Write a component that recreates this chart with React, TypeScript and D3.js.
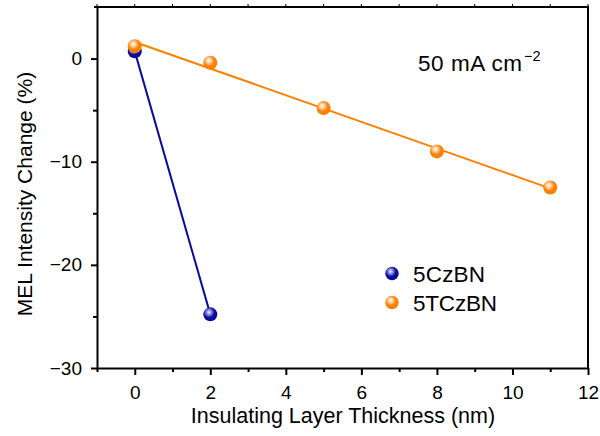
import React, { useRef, useEffect } from "react";
import * as d3 from "d3";

// thickness (nm) and MEL change (%)
const czbnX = [0, 2];
const czbnY = [0.7, -24.8];
const tczbnX = [0, 2, 5, 8, 11];
const tczbnY = [1.2, -0.4, -4.8, -9.0, -12.5];

const xTicks = [0, 2, 4, 6, 8, 10, 12];
const xMinor = [-1, 1, 3, 5, 7, 9, 11];
const yTicks = [0, -10, -20, -30];
const yMinor = [-5, -15, -25];

const seriesNames = ["5CzBN", "5TCzBN"];
const BLUE = "#0a0a9e";
const ORANGE = "#ff8000";

function App() {
  const ref = useRef<SVGSVGElement>(null);

  useEffect(() => {
    const svg = d3.select(ref.current);
    svg.selectAll("*").remove();

    const left = 97, right = 588, top = 7, bottom = 368;
    const x = d3.scaleLinear().domain([-1, 12]).range([left, right]);
    const y = d3.scaleLinear().domain([-30, 5]).range([bottom, top]);
    const font = "Liberation Sans, Arial, sans-serif";

    // gradients for the ball markers
    const defs = svg.append("defs");
    [["gBlue", BLUE, "#a8a8f0"], ["gOrange", ORANGE, "#ffe2c4"]].forEach(([id, c, hl]) => {
      const g = defs.append("radialGradient").attr("id", id)
        .attr("cx", "0.4").attr("cy", "0.35").attr("r", "0.65");
      g.append("stop").attr("offset", "0").attr("stop-color", "#ffffff");
      g.append("stop").attr("offset", "0.18").attr("stop-color", hl);
      g.append("stop").attr("offset", "0.6").attr("stop-color", c);
      g.append("stop").attr("offset", "1").attr("stop-color", c);
    });

    // frame (top + right)
    svg.append("path")
      .attr("d", `M${left - 3},${top}H${right}V${bottom}`)
      .attr("fill", "none").attr("stroke", "#000").attr("stroke-width", 2);

    // top ticks (small, outward)
    svg.append("g").selectAll("line").data(xTicks.concat(xMinor)).join("line")
      .attr("x1", (d) => x(d)).attr("x2", (d) => x(d))
      .attr("y1", top).attr("y2", top - 3)
      .attr("stroke", "#000").attr("stroke-width", 1);

    // x axis
    const xa = svg.append("g").attr("transform", `translate(0,${bottom})`)
      .call(d3.axisBottom(x).tickValues(xTicks).tickSize(7).tickSizeOuter(0).tickPadding(11).tickFormat(d3.format("d")));
    xa.select(".domain").attr("stroke-width", 2);
    xa.selectAll(".tick line").attr("stroke-width", 2);
    xa.selectAll("text").attr("font-family", font).attr("font-size", 19).attr("fill", "#000");
    svg.append("g").attr("transform", `translate(0,${bottom})`)
      .call(d3.axisBottom(x).tickValues(xMinor).tickSize(4).tickFormat(() => ""))
      .call((g) => g.select(".domain").remove())
      .selectAll(".tick line").attr("stroke-width", 2);

    // y axis
    const ya = svg.append("g").attr("transform", `translate(${left},0)`)
      .call(d3.axisLeft(y).tickValues(yTicks).tickSize(6).tickSizeOuter(0).tickPadding(9)
        .tickFormat((d) => d3.format("d")(d as number).replace("-", "\u2212")));
    ya.select(".domain").attr("stroke-width", 2);
    ya.selectAll(".tick line").attr("stroke-width", 2);
    ya.selectAll("text").attr("font-family", font).attr("font-size", 19).attr("fill", "#000");
    svg.append("g").attr("transform", `translate(${left},0)`)
      .call(d3.axisLeft(y).tickValues(yMinor).tickSize(4).tickFormat(() => ""))
      .call((g) => g.select(".domain").remove())
      .selectAll(".tick line").attr("stroke-width", 2);

    // axis titles
    svg.append("text").attr("x", 343).attr("y", 423)
      .attr("text-anchor", "middle").attr("font-family", font).attr("font-size", 21.5)
      .text("Insulating Layer Thickness (nm)");
    svg.append("text").attr("transform", `translate(32,194) rotate(-90)`)
      .attr("text-anchor", "middle").attr("font-family", font).attr("font-size", 21)
      .text("MEL Intensity Change (%)");

    // 5CzBN connecting line
    const line = d3.line<number>().x((_, i) => x(czbnX[i])).y((d) => y(d));
    svg.append("path").datum(czbnY).attr("d", line)
      .attr("fill", "none").attr("stroke", BLUE).attr("stroke-width", 2);

    // 5TCzBN linear fit
    const mx = d3.mean(tczbnX) as number;
    const my = d3.mean(tczbnY) as number;
    const sxy = d3.sum(tczbnX, (v, i) => (v - mx) * (tczbnY[i] - my));
    const sxx = d3.sum(tczbnX, (v) => (v - mx) ** 2);
    const slope = sxy / sxx;
    const icpt = my - slope * mx;
    const x0 = tczbnX[0], x1 = tczbnX[tczbnX.length - 1];
    svg.append("line")
      .attr("x1", x(x0)).attr("y1", y(icpt + slope * x0))
      .attr("x2", x(x1)).attr("y2", y(icpt + slope * x1))
      .attr("stroke", ORANGE).attr("stroke-width", 2);

    // markers
    svg.append("g").selectAll("circle").data(czbnY).join("circle")
      .attr("cx", (_, i) => x(czbnX[i])).attr("cy", (d) => y(d)).attr("r", 7)
      .attr("fill", "url(#gBlue)");
    svg.append("g").selectAll("circle").data(tczbnY).join("circle")
      .attr("cx", (_, i) => x(tczbnX[i])).attr("cy", (d) => y(d)).attr("r", 7)
      .attr("fill", "url(#gOrange)");

    // legend
    const lg = svg.append("g");
    const legendWidths = [72, 84];
    seriesNames.forEach((name, i) => {
      const cy = 273.5 + i * 29;
      lg.append("circle").attr("cx", 392).attr("cy", cy).attr("r", 6.7)
        .attr("fill", i === 0 ? "url(#gBlue)" : "url(#gOrange)");
      lg.append("text").attr("x", 413).attr("y", cy + 8)
        .attr("font-family", font).attr("font-size", 22.5)
        .attr("textLength", legendWidths[i]).text(name);
    });

    // annotation
    svg.append("text").attr("x", 418).attr("y", 71)
      .attr("font-family", font).attr("font-size", 22.5)
      .attr("textLength", 104).text("50 mA cm");
    svg.append("text").attr("x", 524).attr("y", 61)
      .attr("font-family", font).attr("font-size", 14.5).text("\u22122");
  }, []);

  return (
    <svg
      ref={ref}
      width={600}
      height={436}
      style={{ position: "absolute", left: 0, top: 0, background: "#fff" }}
    />
  );
}

export default App;
